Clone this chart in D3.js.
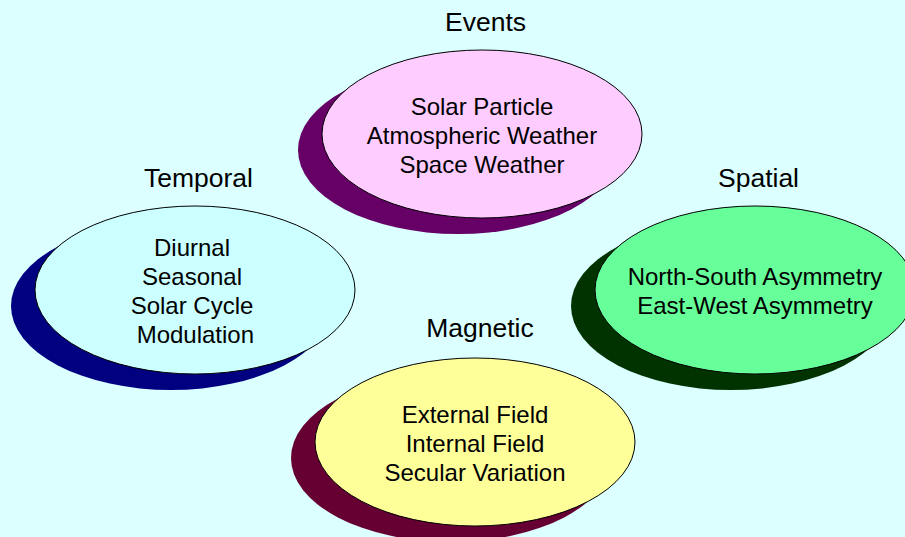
<!DOCTYPE html>
<html>
<head>
<meta charset="utf-8">
<script src="https://cdn.jsdelivr.net/npm/d3@7"></script>
<style>
  body { margin: 0; background: #dcffff; }
  text { font-family: "Liberation Sans", Arial, sans-serif; fill: #000; }
</style>
</head>
<body>
<svg class="chart"></svg>
<script>
var categories = ["Events", "Temporal", "Spatial", "Magnetic"];
var items = [
  ["Solar Particle", "Atmospheric Weather", "Space Weather"],
  ["Diurnal", "Seasonal", "Solar Cycle", " Modulation"],
  ["North-South Asymmetry", "East-West Asymmetry"],
  ["External Field", "Internal Field", "Secular Variation"]
];
var fills = ["#ffccff", "#ccffff", "#66ff99", "#ffff99"];
var shadows = ["#660066", "#000080", "#003300", "#660033"];

// layout grid: column / row of each bubble
var cols = [1.025, 0, 2, 1];
var rows = [0, 1.013, 1.013, 2];

var width = 905, height = 537;
var rx = 160, ry = 84;

var x = d3.scaleLinear().domain([0, 2]).range([195, 755]);
var y = d3.scaleLinear().domain([0, 2]).range([134, 442]);

var svg = d3.select(".chart")
    .attr("width", width)
    .attr("height", height);

svg.append("rect")
    .attr("width", width)
    .attr("height", height)
    .attr("fill", "#dcffff");

var g = svg.selectAll("g.bubble")
    .data(categories)
    .enter().append("g")
    .attr("class", "bubble")
    .attr("transform", function(d, i) {
      return "translate(" + x(cols[i]) + "," + y(rows[i]) + ")";
    });

g.append("ellipse")
    .attr("cx", -24)
    .attr("cy", 16)
    .attr("rx", rx)
    .attr("ry", ry)
    .attr("fill", function(d, i) { return shadows[i]; });

g.append("ellipse")
    .attr("rx", rx)
    .attr("ry", ry)
    .attr("fill", function(d, i) { return fills[i]; })
    .attr("stroke", "#000")
    .attr("stroke-width", 1);

g.append("text")
    .attr("x", function(d, i) { return i == 3 ? 5 : 3.5; })
    .attr("y", function(d, i) { return i == 3 ? -ry - 21 : -ry - 19; })
    .attr("text-anchor", "middle")
    .style("font-size", "26.5px")
    .text(function(d) { return d; });

g.each(function(d, i) {
  var lines = items[i];
  var lh = 29;
  var top = -(lines.length - 1) * lh / 2;
  d3.select(this).selectAll("text.item")
      .data(lines)
      .enter().append("text")
      .attr("class", "item")
      .attr("x", i == 1 ? -3 : 0)
      .attr("y", function(t, j) { return top + j * lh + 9.5; })
      .attr("text-anchor", "middle")
      .attr("xml:space", "preserve")
      .style("font-size", "24px")
      .text(function(t) { return t; });
});
</script>
</body>
</html>
